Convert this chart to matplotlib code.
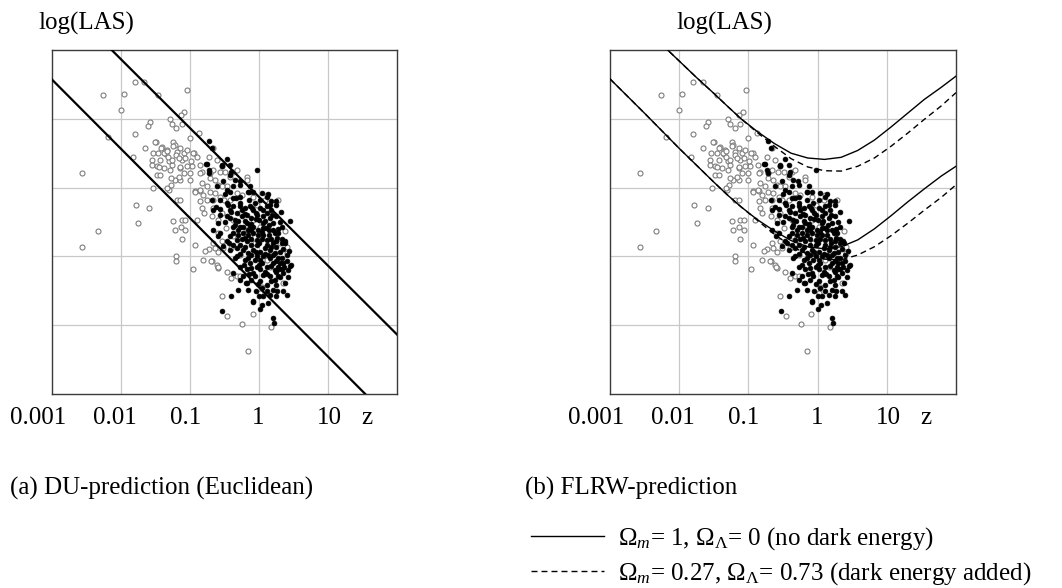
import matplotlib
matplotlib.use("Agg")
import matplotlib.pyplot as plt
import matplotlib.transforms as mtransforms

plt.rcParams['font.family'] = ['Liberation Serif', 'DejaVu Serif']
plt.rcParams['mathtext.fontset'] = 'custom'
plt.rcParams['mathtext.rm'] = 'Liberation Serif'
plt.rcParams['mathtext.it'] = 'Liberation Serif:italic'

# ---------------- data (log10 z, log10 LAS) ----------------
open_logz = [
    -2.565, -2.565, -2.34, -2.26, -2.00, -1.96, -1.80, -1.66, -1.46, -1.04,
    -1.08, -1.80, -1.83, -2.19, -1.58, -1.61, -1.29, -1.26, -1.20, -1.12,
    -0.87, -1.00, -1.50, -1.65, -1.54, -1.46, -1.55, -1.55, -1.48, -1.43,
    -1.38, -1.35, -1.30, -1.26, -1.24, -1.22, -1.14, -1.09, -1.12, -1.07,
    -1.22, -1.14, -1.28, -1.31, -1.53, -1.78, -1.59, -1.75, -1.24, -1.22,
    -1.19, -1.14, -1.12, -1.07, -1.13, -1.07, -1.12, -1.20, -1.20, -0.96,
    -1.00, -1.00, -0.97, -0.94, -0.90, -0.86, -0.83, -0.93, -0.85, -0.83,
    -0.76, -0.85, -0.83, -0.76, -0.90, -0.93, -0.81, -0.68, -0.73, -0.61,
    -0.59, -0.47, -0.40, -0.32, -0.27, -0.54, -0.46, -0.24, -0.09, -0.16,
    0.18, -0.66, -0.71, -0.64, -0.59, -0.71, -0.64, -0.56, -0.66, -0.78,
    -0.68, -0.59, -0.54, -0.42, -0.32, -0.18, -0.37, -0.47, -0.32, -0.54,
    -0.61, 0.38, 0.41, 0.41, 0.30, 0.35, 0.11, 0.16, 0.04, 0.02,
    0.09, -0.03, -0.08, 0.02, -0.27, -0.37, -0.18, -0.13, -0.06, -0.27,
    -0.37, -0.40, -0.54, -0.51, -0.42, -0.54, -0.59, -0.48, -0.80, -0.85,
    -0.66, -0.73, -0.96, -0.99, -1.43, -1.41, -1.34, -1.19, -1.05, -1.48,
    -1.14, -1.09, -1.05, -1.24, -1.13, -0.18, -0.25, -0.08, -0.66, -0.71,
    -1.42, -1.45, -1.37, -1.33, -1.32, -1.26, -1.29, -1.27, -1.16, -1.14,
    -1.20, -1.16, -1.33, -1.51, -0.57, -0.49, -0.93, -0.86, -0.81, 0.11,
    0.28, -0.69, -0.60, -0.66, -0.64, -0.59, -0.52,
]
open_loglas = [
    3.21, 2.14, 2.37, 4.34, 4.13, 4.36, 4.54, 4.53, 4.35, 4.42,
    4.10, 3.78, 3.45, 3.74, 3.96, 3.89, 4.00, 3.92, 3.86, 3.92,
    3.80, 3.72, 3.67, 3.57, 3.50, 3.50, 3.40, 3.33, 3.18, 3.18,
    3.28, 3.49, 3.39, 3.33, 3.67, 3.62, 3.57, 3.50, 3.40, 3.43,
    3.11, 3.11, 3.04, 2.97, 2.99, 2.75, 2.70, 2.49, 2.51, 2.39,
    2.82, 2.82, 2.53, 2.53, 2.43, 2.39, 2.26, 2.00, 1.94, 1.81,
    3.21, 3.11, 3.32, 3.50, 3.45, 3.33, 3.23, 2.95, 2.95, 3.07,
    3.02, 2.80, 2.70, 2.82, 2.53, 2.17, 1.95, 1.94, 2.11, 1.88,
    1.83, 1.78, 1.68, 1.71, 1.72, 1.43, 1.14, 1.02, 1.17, 0.62,
    0.97, 3.26, 3.14, 3.11, 3.04, 2.94, 2.92, 2.87, 2.70, 2.08,
    2.58, 2.34, 2.22, 3.16, 2.92, 3.16, 3.23, 3.02, 3.26, 3.31,
    3.40, 2.37, 2.14, 2.05, 2.19, 1.62, 1.95, 1.85, 1.56, 1.47,
    2.82, 2.75, 2.53, 2.43, 2.63, 2.53, 2.39, 2.31, 2.19, 2.02,
    2.29, 2.12, 3.02, 2.82, 2.82, 2.63, 2.53, 2.41, 2.63, 3.21,
    3.57, 3.45, 3.50, 3.38, 3.40, 3.59, 3.55, 3.52, 3.55, 3.31,
    3.28, 3.21, 3.31, 3.60, 4.06, 3.11, 2.89, 2.87, 2.82, 3.21,
    3.58, 3.30, 3.50, 3.53, 3.45, 3.40, 3.26, 3.14, 3.16, 3.30,
    3.47, 3.43, 2.99, 3.67, 3.23, 3.23, 2.94, 2.97, 2.89, 2.89,
    2.82, 1.93, 1.84, 2.19, 2.12, 2.07, 2.12,
]

filled_logz = [
    -0.72, -0.47, -0.54, -0.73, -0.76, -0.03, -0.42, -0.35, -0.47, -0.42,
    -0.15, 0.04, 0.11, 0.25, 0.25, 0.45, -0.66, -0.56, -0.56, -0.47,
    -0.37, -0.27, -0.20, -0.13, -0.06, 0.02, 0.11, 0.18, -0.32, -0.25,
    -0.18, -0.11, -0.03, 0.06, 0.16, 0.25, -0.37, -0.30, -0.23, -0.16,
    -0.08, -0.01, 0.06, 0.14, 0.21, 0.28, -0.42, -0.32, -0.25, -0.18,
    -0.11, -0.03, 0.04, 0.11, 0.18, 0.25, 0.33, -0.52, -0.42, -0.32,
    -0.23, -0.16, -0.08, 0.02, 0.09, 0.16, 0.23, 0.30, 0.40, -0.20,
    -0.13, -0.06, 0.04, 0.11, 0.21, 0.28, 0.33, 0.47, 0.42, -0.18,
    -0.08, 0.06, 0.16, 0.23, 0.38, -0.18, -0.30, -0.41, -0.05, 0.04,
    0.21, 0.35, 0.40, -0.08, 0.00, 0.13, 0.01, -0.53, 0.21, 0.22,
    -0.66, -0.59, -0.61, -0.52, -0.37, -0.27, -0.13, -0.68, -0.56, -0.47,
    -0.37, -0.27, -0.08, -0.56, -0.47, -0.35, -0.27, -0.37, -0.27, -0.11,
    0.02, 0.11, 0.28, 0.35, 0.33, 0.00, -0.05, 0.11, -0.42, -0.25,
    -0.15, 0.02, 0.18, 0.21, -0.08, -0.23, 0.06, 0.18, -0.03, 0.06,
    0.16, -0.27, -0.11, 0.25, 0.35, -0.03, -0.23, -0.16, 0.25, 0.06,
    -0.40, -0.31, -0.20, -0.12, 0.06, 0.15, 0.33, -0.37, -0.16, -0.01,
    0.14, 0.26, -0.37, -0.20, -0.03, 0.11, 0.25, -0.27, -0.11, 0.09,
    0.21, 0.35, -0.16, 0.02, 0.30, -0.11, 0.02, 0.23, 0.09, 0.25,
    0.29, -0.06, 0.18, 0.11, -0.27, -0.42, -0.35, -0.08, 0.06, 0.16,
    -0.27, -0.18, -0.11, 0.04, 0.23, -0.30, 0.33, 0.38, 0.40, 0.45,
    -0.68, -0.54, -0.42, -0.40, -0.77, -0.72, -0.155, -0.08, -0.19, 0.26,
    0.16, -0.45, -0.33, -0.21, -0.05, 0.08, 0.19, 0.30, -0.50, -0.35,
    -0.13, 0.10, 0.27, -0.44, -0.21, 0.00, 0.20, 0.37, -0.32, -0.05,
    0.13, 0.28, 0.44, -0.22, 0.00, 0.18, 0.36, -0.14, 0.12, 0.30,
    -0.02, 0.25, 0.42, -0.60, -0.62, -0.50, -0.28, -0.10, 0.13, 0.32,
    0.05,
]
filled_loglas = [
    3.68, 3.42, 3.32, 3.26, 3.35, 3.26, 3.19, 3.11, 2.97, 2.94,
    2.93, 2.92, 2.87, 2.81, 2.75, 2.52, 2.68, 2.69, 2.60, 2.58,
    2.73, 2.77, 2.70, 2.73, 2.77, 2.70, 2.73, 2.68, 2.63, 2.58,
    2.60, 2.56, 2.60, 2.58, 2.56, 2.58, 2.43, 2.39, 2.43, 2.39,
    2.43, 2.39, 2.41, 2.39, 2.39, 2.34, 2.29, 2.24, 2.26, 2.22,
    2.26, 2.24, 2.26, 2.24, 2.26, 2.22, 2.19, 2.15, 2.10, 2.12,
    2.10, 2.05, 2.10, 2.07, 2.12, 2.10, 2.05, 2.07, 2.02, 1.95,
    1.90, 1.95, 1.90, 1.85, 1.90, 1.85, 1.81, 1.87, 1.80, 1.81,
    1.76, 1.73, 1.71, 1.66, 1.61, 1.61, 1.51, 1.43, 1.49, 1.54,
    1.51, 1.49, 1.44, 1.35, 1.43, 1.32, 1.23, 1.20, 1.10, 1.03,
    2.39, 2.48, 3.02, 3.09, 3.02, 3.04, 3.02, 2.82, 2.82, 2.77,
    2.85, 2.87, 2.94, 2.34, 2.22, 1.97, 1.85, 1.76, 1.66, 1.66,
    1.64, 1.59, 1.71, 1.90, 1.97, 2.53, 2.63, 2.63, 2.56, 2.68,
    2.82, 2.82, 2.80, 2.48, 2.34, 2.34, 2.31, 2.14, 2.00, 2.00,
    1.97, 2.17, 2.17, 1.94, 1.76, 1.85, 1.71, 1.51, 1.42, 1.42,
    2.65, 2.51, 2.51, 2.47, 2.49, 2.45, 2.43, 2.34, 2.31, 2.31,
    2.31, 2.27, 2.17, 2.14, 2.17, 2.17, 2.13, 2.04, 2.02, 2.04,
    2.02, 2.11, 1.97, 1.95, 1.90, 1.83, 1.81, 1.80, 1.78, 1.77,
    1.82, 1.71, 1.64, 1.49, 2.73, 2.68, 2.53, 2.68, 2.68, 2.75,
    2.43, 2.48, 2.39, 2.36, 2.34, 2.31, 2.26, 2.19, 1.93, 1.86,
    3.57, 3.33, 3.33, 3.23, 3.35, 3.21, 2.93, 1.34, 1.61, 1.49,
    1.44, 2.75, 2.85, 2.62, 2.55, 2.52, 2.60, 2.50, 2.50, 2.45,
    2.44, 2.42, 2.40, 2.20, 2.27, 2.20, 2.20, 2.23, 2.00, 2.07,
    2.02, 1.98, 2.08, 1.88, 1.87, 1.86, 1.85, 1.75, 1.74, 1.70,
    1.60, 1.58, 1.70, 2.30, 2.72, 2.90, 3.10, 2.70, 2.90, 2.65,
    1.30,
]

# (a) DU prediction: straight lines (endpoints)
du_upper_logz = [-2.135, 2.0]
du_upper_loglas = [5.0, 0.865]
du_lower_logz = [-3.0, 1.54]
du_lower_loglas = [4.57, 0.0]

# (b) FLRW prediction curves
flrw_upper_logz = [-2.25, -2.0, -1.75, -1.5, -1.3, -1.106, -0.865, -0.624, -0.383,
                   -0.142, 0.10, 0.34, 0.58, 0.82, 1.06, 1.30, 1.54, 1.79, 2.0]
flrw_upper_eds = [5.08, 4.84, 4.60, 4.37, 4.18, 4.00, 3.81, 3.64, 3.50,
                  3.43, 3.41, 3.44, 3.54, 3.69, 3.88, 4.08, 4.28, 4.46, 4.62]
flrw_upper_lcdm = [5.08, 4.84, 4.60, 4.37, 4.18, 4.00, 3.795, 3.60, 3.42,
                   3.30, 3.245, 3.24, 3.31, 3.43, 3.60, 3.79, 3.99, 4.19, 4.38]
flrw_lower_logz = [-3.0, -2.5, -2.0, -1.5, -1.3, -1.106, -0.865, -0.624, -0.383,
                   -0.142, 0.10, 0.34, 0.58, 0.82, 1.06, 1.30, 1.54, 1.79, 2.0]
flrw_lower_eds = [4.58, 4.08, 3.57, 3.08, 2.89, 2.72, 2.53, 2.37, 2.23,
                  2.14, 2.11, 2.14, 2.24, 2.40, 2.59, 2.79, 2.98, 3.17, 3.31]
flrw_lower_lcdm = [4.58, 4.08, 3.57, 3.08, 2.89, 2.72, 2.52, 2.32, 2.15,
                   2.03, 1.96, 1.95, 2.02, 2.14, 2.30, 2.48, 2.67, 2.86, 3.04]

tick_vals = [-3, -2, -1, 0, 1]
tick_labels = ['0.001', '0.01', '0.1', '1', '10']
y_grid = [1, 2, 3, 4]

legend_labels = [r'$\Omega_m$= 1, $\Omega_\Lambda$= 0 (no dark energy)',
                 r'$\Omega_m$= 0.27, $\Omega_\Lambda$= 0.73 (dark energy added)']

# ---------------- figure ----------------
W, H = 1062, 588
fig = plt.figure(figsize=(W / 100, H / 100), dpi=100)
fig.patch.set_facecolor('white')

def px(x, y):
    return x / W, 1 - y / H

ax_a = fig.add_axes([52 / W, (H - 394) / H, 345 / W, 344 / H])
ax_b = fig.add_axes([610 / W, (H - 394) / H, 346 / W, 344 / H])

tick_dx_px = [-13.5, -6, -4.3, -0.7, 1.8]
FS = 18

for ax in (ax_a, ax_b):
    ax.set_xlim(-3, 2)
    ax.set_ylim(0, 5)
    ax.set_xticks(tick_vals[1:])
    ax.set_yticks(y_grid)
    ax.set_xticklabels([])
    ax.set_yticklabels([])
    ax.tick_params(length=0)
    ax.grid(True, color='#c8c8c8', lw=0.9)
    ax.set_axisbelow(True)
    for s in ax.spines.values():
        s.set_color('#3a3a3a')
        s.set_linewidth(1.0)
    ax.scatter(open_logz, open_loglas, s=13, facecolor='white',
               edgecolor='#7d7d7d', linewidth=0.8, zorder=2)
    ax.scatter(filled_logz, filled_loglas, s=12, facecolor='black',
               edgecolor='black', linewidth=0.5, zorder=2.5)
    trans = mtransforms.blended_transform_factory(ax.transData, ax.transAxes)
    for v, lab, dx in zip(tick_vals, tick_labels, tick_dx_px):
        t = trans + mtransforms.ScaledTranslation(dx / 100, 0, fig.dpi_scale_trans)
        ax.text(v, -24 / 344, lab, transform=t, ha='center', va='center',
                fontsize=FS, clip_on=False)
    ax.text(1.565, -24 / 344, 'z', transform=trans, ha='center', va='center',
            fontsize=FS, clip_on=False)

ax_a.plot(du_upper_logz, du_upper_loglas, color='black', lw=1.6, zorder=3)
ax_a.plot(du_lower_logz, du_lower_loglas, color='black', lw=1.6, zorder=3)

dash = (0, (4.3, 2.9))
l1, = ax_b.plot(flrw_upper_logz, flrw_upper_eds, color='black', lw=1.0, zorder=3)
l2, = ax_b.plot(flrw_upper_logz, flrw_upper_lcdm, color='black', lw=1.0,
                linestyle=dash, zorder=3)
ax_b.plot(flrw_lower_logz, flrw_lower_eds, color='black', lw=1.0, zorder=3)
ax_b.plot(flrw_lower_logz, flrw_lower_lcdm, color='black', lw=1.0,
          linestyle=dash, zorder=3)

fig.text(*px(86, 23), 'log(LAS)', ha='center', va='center', fontsize=FS)
fig.text(*px(724, 23), 'log(LAS)', ha='center', va='center', fontsize=FS)
fig.text(*px(10, 488), '(a) DU-prediction (Euclidean)', ha='left', va='center', fontsize=FS)
fig.text(*px(525, 488), '(b) FLRW-prediction', ha='left', va='center', fontsize=FS)

leg = fig.legend([l1, l2], legend_labels, loc='center left',
                 bbox_to_anchor=px(531, 556), frameon=False, fontsize=FS,
                 handlelength=2.9, handletextpad=0.6, labelspacing=0.33,
                 borderpad=0, borderaxespad=0)

fig.savefig('out.png', dpi=100, facecolor='white')
